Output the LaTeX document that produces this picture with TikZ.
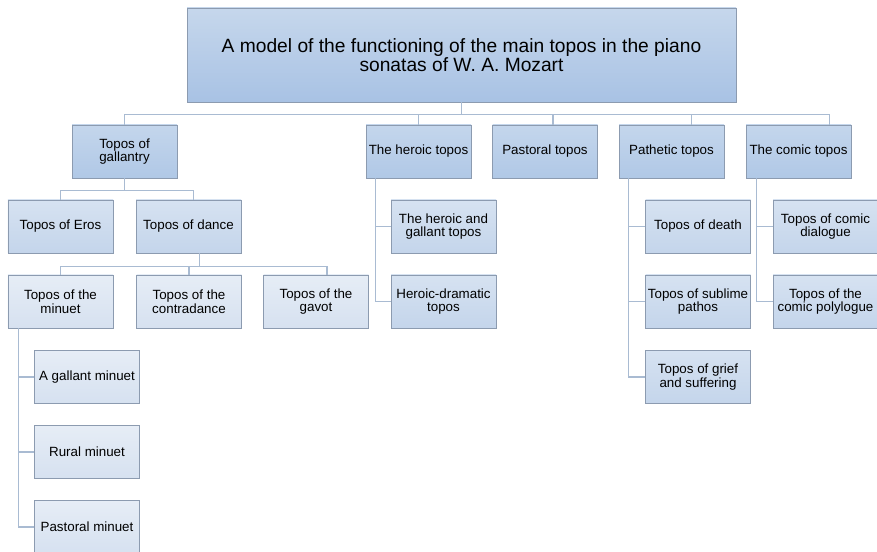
\documentclass[tikz,border=0pt]{standalone}
\usepackage{fontspec}
\setmainfont{Liberation Sans}
\usepackage{tikz}

\definecolor{boxline}{HTML}{8C9BB0}
\definecolor{linkcol}{HTML}{A9BBD2}
\definecolor{topA}{HTML}{C6D7EC}
\definecolor{topB}{HTML}{A8C2E4}
\definecolor{oneA}{HTML}{C4D6EC}
\definecolor{oneB}{HTML}{B0C8E6}
\definecolor{twoA}{HTML}{D6E2F1}
\definecolor{twoB}{HTML}{C4D5EB}
\definecolor{threeA}{HTML}{E6EDF6}
\definecolor{threeB}{HTML}{D6E1F0}

\begin{document}
\begin{tikzpicture}[x=0.3mm, y=-0.3mm,
  box/.style={draw=boxline, line width=0.6pt, minimum width=31.5mm, minimum height=15.9mm,
    align=center, inner sep=1pt, font=\fontsize{11.4}{11.6}\selectfont},
  lvlone/.style={box, top color=oneA, bottom color=oneB},
  lvltwo/.style={box, top color=twoA, bottom color=twoB},
  lvlthree/.style={box, top color=threeA, bottom color=threeB},
  link/.style={draw=linkcol, line width=0.9pt}]

            \useasboundingbox (0,0) rectangle (877,552);

            \node[box, top color=topA, bottom color=topB, minimum width=164.7mm, minimum height=28.2mm,
              font=\fontsize{16.4}{16.6}\selectfont] (model) at (461.5,55)
              {A model of the functioning of the main topos in the piano\\sonatas of W. A. Mozart};

            \node[lvlone] (gallantry) at (124.5,151.5) {Topos of\\gallantry};
            \node[lvlone] (heroic) at (418.5,151.5) {The heroic topos};
            \node[lvlone] (pastoral) at (545,151.5) {Pastoral topos};
            \node[lvlone] (pathetic) at (671.5,151.5) {Pathetic topos};
            \node[lvlone] (comic) at (798.5,151.5) {The comic topos};

            \node[lvltwo] (eros) at (60.5,226.5) {Topos of Eros};
            \node[lvltwo] (dance) at (188.5,226.5) {Topos of dance};
            \node[lvltwo] (hgallant) at (443.5,226.5) {The heroic and\\gallant topos};
            \node[lvltwo] (hdramatic) at (443.5,301.5) {Heroic-dramatic\\topos};
            \node[lvltwo] (death) at (698,226.5) {Topos of death};
            \node[lvltwo] (sublime) at (698,301.5) {Topos of sublime\\pathos};
            \node[lvltwo] (grief) at (698,377) {Topos of grief\\and suffering};
            \node[lvltwo] (dialogue) at (825.5,226.5) {Topos of comic\\dialogue};
            \node[lvltwo] (polylogue) at (825.5,301.5) {Topos of the\\comic polylogue};

            \node[lvlthree] (minuet) at (60.5,301.5) {Topos of the\\minuet};
            \node[lvlthree] (contradance) at (189,301.5) {Topos of the\\contradance};
            \node[lvlthree] (gavot) at (316,301.5) {Topos of the\\gavot};

            \node[lvlthree] (gminuet) at (87,377) {A gallant minuet};
            \node[lvlthree] (rminuet) at (87,452) {Rural minuet};
            \node[lvlthree] (pminuet) at (87,527) {Pastoral minuet};

            \draw[link] (model.south) -- ++(0,12) -| (gallantry.north);
            \draw[link] (model.south) -- ++(0,12) -| (heroic.north);
            \draw[link] (model.south) -- ++(0,12) -| ([xshift=2.4mm]pastoral.north);
            \draw[link] (model.south) -- ++(0,12) -| ([xshift=5.9mm]pathetic.north);
            \draw[link] (model.south) -- ++(0,12) -| ([xshift=9.2mm]comic.north);

            \draw[link] (gallantry.south) -- ++(0,12) -| (eros.north);
            \draw[link] (gallantry.south) -- ++(0,12) -| ([xshift=1.4mm]dance.north);

            \draw[link] ([xshift=3.2mm]dance.south) -- ++(0,13) -| (minuet.north);
            \draw[link] ([xshift=3.2mm]dance.south) -- ++(0,13) -| (contradance.north);
            \draw[link] ([xshift=3.2mm]dance.south) -- ++(0,13) -| ([xshift=3.3mm]gavot.north);

            \draw[link] ([xshift=3.2mm]minuet.south west) |- (gminuet.west);
            \draw[link] ([xshift=3.2mm]minuet.south west) |- (rminuet.west);
            \draw[link] ([xshift=3.2mm]minuet.south west) |- (pminuet.west);

            \draw[link] ([xshift=3mm]heroic.south west) |- (hgallant.west);
            \draw[link] ([xshift=3mm]heroic.south west) |- (hdramatic.west);

            \draw[link] ([xshift=3mm]pathetic.south west) |- (death.west);
            \draw[link] ([xshift=3mm]pathetic.south west) |- (sublime.west);
            \draw[link] ([xshift=3mm]pathetic.south west) |- (grief.west);

            \draw[link] ([xshift=3.2mm]comic.south west) |- (dialogue.west);
            \draw[link] ([xshift=3.2mm]comic.south west) |- (polylogue.west);
        \end{tikzpicture}
\end{document}
